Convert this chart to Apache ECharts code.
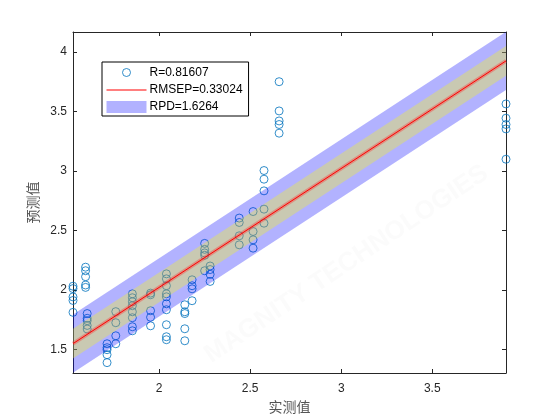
<!DOCTYPE html>
<html>
<head>
<meta charset="utf-8">
<script src="https://cdn.jsdelivr.net/npm/echarts@6/dist/echarts.min.js"></script>
<style>
  html, body { margin: 0; padding: 0; background: #fff; }
  #chart { width: 560px; height: 420px; }
</style>
</head>
<body>
<div id="chart"></div>
<script>
const measured = [
  1.527, 1.527, 1.527, 1.527, 1.527,
  1.596, 1.596, 1.596, 1.596, 1.596,
  1.605, 1.605, 1.605, 1.605, 1.605,
  1.714, 1.714, 1.714, 1.714, 1.714,
  1.762, 1.762, 1.762, 1.762,
  1.853, 1.853, 1.853, 1.853, 1.853, 1.853, 1.853, 1.853,
  1.953, 1.953, 1.953, 1.953, 1.953,
  2.04, 2.04, 2.04, 2.04, 2.04, 2.04, 2.04, 2.04, 2.04, 2.04,
  2.141, 2.141, 2.141, 2.141, 2.141,
  2.181, 2.181, 2.181, 2.181,
  2.25, 2.25, 2.25, 2.25, 2.25,
  2.28, 2.28, 2.28, 2.28,
  2.44, 2.44, 2.44, 2.44,
  2.516, 2.516, 2.516, 2.516,
  2.576, 2.576, 2.576, 2.576, 2.576,
  2.659, 2.659, 2.659, 2.659, 2.659,
  3.905, 3.905, 3.905, 3.905, 3.905
];
const predicted = [
  2.03, 2.01, 1.94, 1.91, 1.81,
  2.19, 2.16, 2.11, 2.04, 2.02,
  1.80, 1.76, 1.74, 1.70, 1.67,
  1.546, 1.513, 1.496, 1.454, 1.387,
  1.816, 1.723, 1.613, 1.546,
  1.966, 1.933, 1.899, 1.866, 1.815, 1.765, 1.689, 1.655,
  1.972, 1.958, 1.824, 1.769, 1.697,
  2.134, 2.092, 2.034, 1.966, 1.941, 1.882, 1.832, 1.706, 1.605, 1.580,
  1.874, 1.815, 1.80, 1.672, 1.571,
  2.084, 2.034, 2.008, 1.908,
  2.39, 2.34, 2.31, 2.29, 2.16,
  2.20, 2.17, 2.13, 2.07,
  2.603, 2.566, 2.454, 2.378,
  2.658, 2.49, 2.42, 2.35,
  3.003, 2.93, 2.832, 2.678, 2.56,
  3.75, 3.504, 3.42, 3.39, 3.317,
  3.563, 3.443, 3.39, 3.353, 3.098
];

// 拟合直线端点和置信带半宽
const fitX = [1.527, 3.905];
const fitY = [1.547, 3.925];
const bandOuter = 0.245;
const bandInner = 0.125;

// 图例文字
const legendNames = ['R=0.81607', 'RMSEP=0.33024', 'RPD=1.6264'];

const xRange = [1.527, 3.905];
const yRange = [1.3, 4.168];

const chart = echarts.init(document.getElementById('chart'));

const axisColor = '#262626';
const labelFont = 'Liberation Sans, Arial, sans-serif';
const cjkFont = 'Noto Sans CJK SC';

// 带状区域：用坐标系把拟合线上下偏移的点转换成多边形
const bandRender = (half, fill) => (params, api) => {
  if (params.dataIndex !== 0) return;
  const top = fitX.map((x, i) => api.coord([x, fitY[i] + half]));
  const bottom = fitX.map((x, i) => api.coord([x, fitY[i] - half])).reverse();
  const cs = params.coordSys;
  return {
    type: 'polygon',
    shape: {points: top.concat(bottom)},
    style: {fill: fill},
    clipPath: {type: 'rect', shape: {x: cs.x, y: cs.y, width: cs.width, height: cs.height}}
  };
};

const fitData = fitX.map((x, i) => [x, fitY[i]]);

const option = {
  animation: false,
  backgroundColor: '#fff',
  grid: {left: 73, right: 54, top: 32, bottom: 47},
  legend: {
    orient: 'vertical',
    left: 102,
    top: 62,
    padding: [4, 6, 3, 4],
    itemGap: 5,
    itemWidth: 40,
    itemHeight: 12,
    backgroundColor: '#fff',
    borderColor: '#000',
    borderWidth: 1,
    borderRadius: 0,
    textStyle: {color: '#000', fontSize: 12, fontFamily: labelFont, padding: [0, 0, 0, -2]},
    data: [
      {
        name: legendNames[0],
        icon: 'path://M0,0M40,12M24,6A4,4,0,1,1,16,6A4,4,0,1,1,24,6Z',
        itemStyle: {color: 'rgba(0,0,0,0)', borderColor: '#0072BD', borderWidth: 1}
      },
      {
        name: legendNames[1],
        icon: 'path://M0,0M40,12M0,5.5L40,5.5L40,6.5L0,6.5Z',
        itemStyle: {color: '#ff0000', borderWidth: 0}
      },
      {name: legendNames[2], icon: 'rect'}
    ]
  },
  graphic: [{
    type: 'text',
    left: 200,
    top: 160,
    rotation: 0.59,
    z: 100,
    silent: true,
    style: {
      text: 'MAGNITY TECHNOLOGIES',
      fill: 'rgba(235,235,235,0.22)',
      font: 'bold 26px Liberation Sans, Arial, sans-serif'
    }
  }],
  xAxis: [
    {
      type: 'value',
      position: 'bottom',
      min: xRange[0],
      max: xRange[1],
      name: '实测值',
      nameLocation: 'middle',
      nameGap: 27,
      nameTextStyle: {color: '#555', fontSize: 14, fontFamily: cjkFont},
      axisLine: {lineStyle: {color: axisColor, width: 1}},
      axisTick: {inside: true, length: 4, lineStyle: {color: axisColor}},
      axisLabel: {color: axisColor, fontSize: 12, fontFamily: labelFont, margin: 10, showMinLabel: false, showMaxLabel: false},
      splitLine: {show: false}
    },
    {
      type: 'value',
      position: 'top',
      min: xRange[0],
      max: xRange[1],
      axisLine: {lineStyle: {color: axisColor, width: 1}},
      axisTick: {inside: true, length: 4, lineStyle: {color: axisColor}},
      axisLabel: {show: false},
      splitLine: {show: false}
    }
  ],
  yAxis: [
    {
      type: 'value',
      position: 'left',
      min: yRange[0],
      max: yRange[1],
      name: '预测值',
      nameLocation: 'middle',
      nameGap: 33,
      nameTextStyle: {color: '#555', fontSize: 14, fontFamily: cjkFont},
      axisLine: {show: true, lineStyle: {color: axisColor, width: 1}},
      axisTick: {show: true, inside: true, length: 4, lineStyle: {color: axisColor}},
      axisLabel: {color: axisColor, fontSize: 12, fontFamily: labelFont, margin: 6, showMinLabel: false, showMaxLabel: false},
      splitLine: {show: false}
    },
    {
      type: 'value',
      position: 'right',
      min: yRange[0],
      max: yRange[1],
      axisLine: {show: true, lineStyle: {color: axisColor, width: 1}},
      axisTick: {show: true, inside: true, length: 4, lineStyle: {color: axisColor}},
      axisLabel: {show: false},
      splitLine: {show: false}
    }
  ],
  series: [
    {
      name: legendNames[0],
      type: 'scatter',
      z: 1,
      symbol: 'circle',
      symbolSize: 8,
      itemStyle: {color: 'rgba(0,0,0,0)', borderColor: '#0072BD', borderWidth: 1},
      data: measured.map((x, i) => [x, predicted[i]])
    },
    {
      name: legendNames[2],
      type: 'custom',
      z: 2,
      itemStyle: {color: 'rgba(0,0,255,0.3)'},
      renderItem: bandRender(bandOuter, 'rgba(0,0,255,0.3)'),
      data: fitData
    },
    {
      name: 'innerBand',
      type: 'custom',
      z: 3,
      renderItem: bandRender(bandInner, 'rgba(255,255,0,0.3)'),
      data: fitData
    },
    {
      name: 'fitHalo',
      type: 'line',
      z: 4,
      symbol: 'none',
      silent: true,
      lineStyle: {color: 'rgba(255,40,40,0.35)', width: 4},
      data: fitData
    },
    {
      name: legendNames[1],
      type: 'line',
      z: 5,
      symbol: 'none',
      itemStyle: {color: '#ff0000'},
      lineStyle: {color: '#ff0000', width: 1},
      data: fitData
    }
  ]
};

chart.setOption(option);
</script>
</body>
</html>
